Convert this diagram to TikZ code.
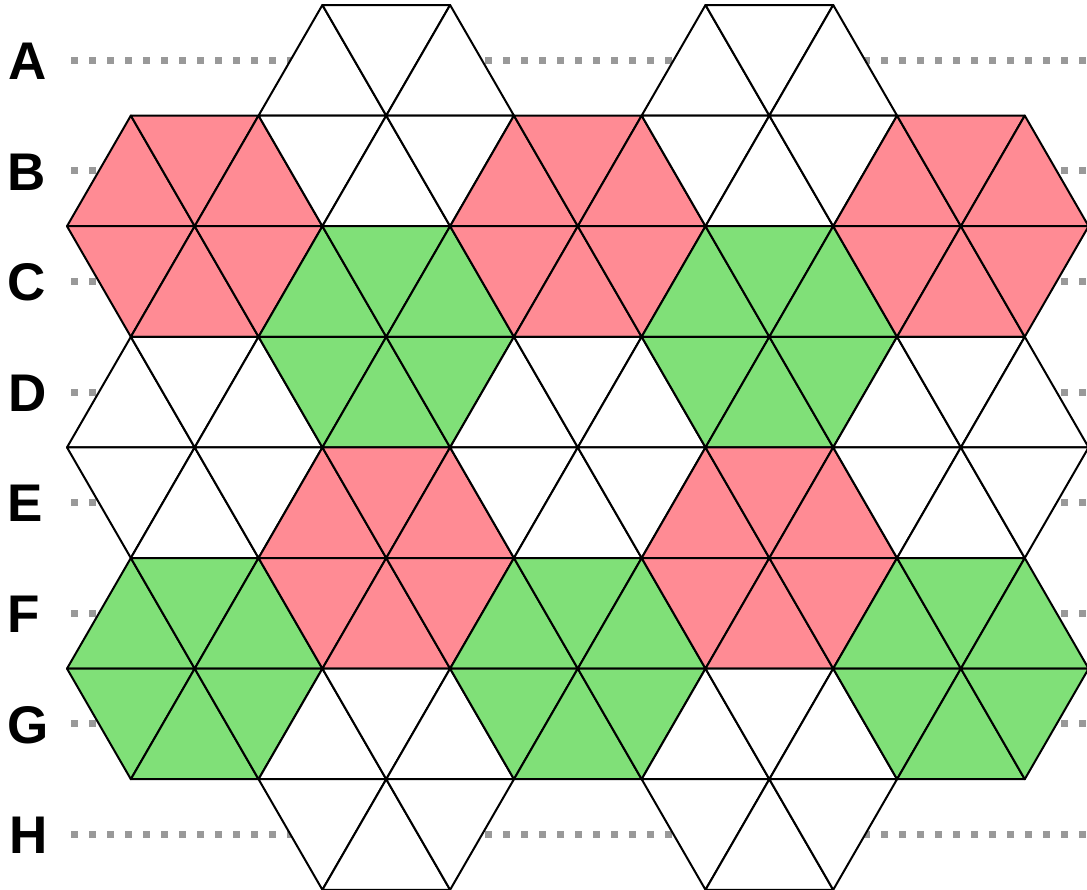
\documentclass[tikz,border=0pt]{standalone}
\usepackage{fontspec}
\setmainfont{Liberation Sans}
\definecolor{pk}{RGB}{255,139,148}
\definecolor{gn}{RGB}{128,224,120}
\definecolor{dotgray}{RGB}{153,153,153}
\tikzset{
  tristyle/.style={draw=black,line width=2pt,line join=round},
  rowdots/.style={draw=dotgray,line width=7pt,dash pattern=on 7pt off 11pt},
  rowlabel/.style={font=\fontsize{53}{53}\selectfont\bfseries,inner sep=0pt,anchor=west}
}
\newcommand\tri[3]{%
  \pgfmathtruncatemacro\tp{mod(#1+#2,2)}%
  \ifnum\tp=0
    \filldraw[tristyle,fill=#3] (#2,#1) -- (#2-1,#1+1) -- (#2+1,#1+1) -- cycle;
  \else
    \filldraw[tristyle,fill=#3] (#2-1,#1) -- (#2+1,#1) -- (#2,#1+1) -- cycle;
  \fi}
\newcommand\grp[3]{\foreach \k in {1,2,3}{\pgfmathtruncatemacro\uu{3*#2+\k}\tri{#1}{\uu}{#3}}}
\begin{document}
\begin{tikzpicture}[x=1pt,y=-1pt]
\useasboundingbox (0,0) rectangle (1087,889);
\clip (0,0) rectangle (1087,889);
% row labels and dotted guide lines
\foreach \lab/\lx [count=\i from 0] in {A/8,B/7.5,C/7.5,D/8,E/7.5,F/7.5,G/7,H/9}{
  \pgfmathsetmacro\yc{5+110.6*(\i+0.5)}
  \coordinate (s\lab) at (71,\yc);
  \coordinate (e\lab) at (1095,\yc);
  \draw[rowdots] (s\lab) -- (e\lab);
  \node[rowlabel] (l\lab) at (\lx,\yc+1) {\lab};
}
\begin{scope}[xshift=67pt,yshift=-5pt,x=63.85pt,y=-110.6pt]
% row A
\grp{0}{1}{white}\grp{0}{3}{white}
% row B
\grp{1}{0}{pk}\grp{1}{1}{white}\grp{1}{2}{pk}\grp{1}{3}{white}\grp{1}{4}{pk}
% row C
\grp{2}{0}{pk}\grp{2}{1}{gn}\grp{2}{2}{pk}\grp{2}{3}{gn}\grp{2}{4}{pk}
% row D
\grp{3}{0}{white}\grp{3}{1}{gn}\grp{3}{2}{white}\grp{3}{3}{gn}\grp{3}{4}{white}
% row E
\grp{4}{0}{white}\grp{4}{1}{pk}\grp{4}{2}{white}\grp{4}{3}{pk}\grp{4}{4}{white}
% row F
\grp{5}{0}{gn}\grp{5}{1}{pk}\grp{5}{2}{gn}\grp{5}{3}{pk}\grp{5}{4}{gn}
% row G
\grp{6}{0}{gn}\grp{6}{1}{white}\grp{6}{2}{gn}\grp{6}{3}{white}\grp{6}{4}{gn}
% row H
\grp{7}{1}{white}\grp{7}{3}{white}
\end{scope}
\end{tikzpicture}
\end{document}
